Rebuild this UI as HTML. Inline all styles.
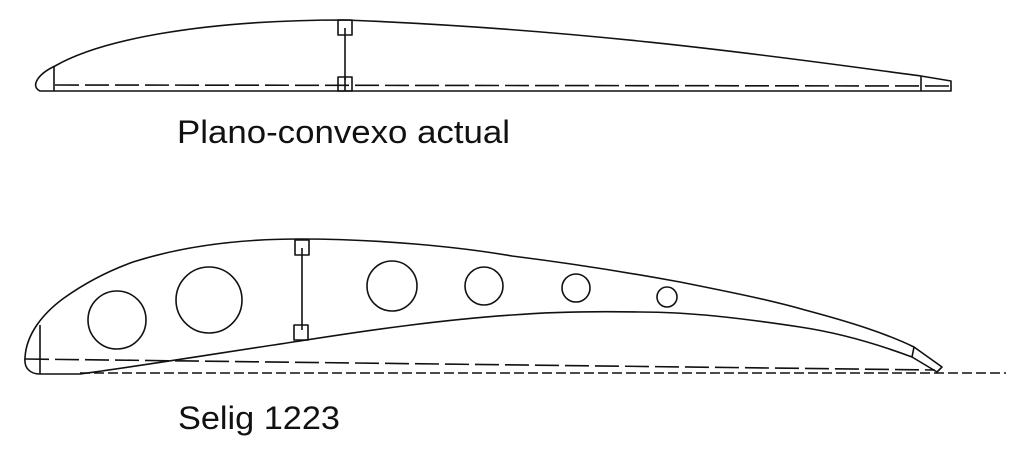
<!DOCTYPE html>
<html><head><style>html,body{margin:0;padding:0;background:#fff}svg{display:block}</style></head>
<body>
<svg width="1024" height="457" viewBox="0 0 1024 457" xmlns="http://www.w3.org/2000/svg">
<g fill="none" stroke="#111" stroke-width="1.6" stroke-linejoin="round">
<!-- top airfoil -->
<path d="M40 91 L951 91 L951 81 L921 76 C800 60 600 30 345 20 C200 20 100 40 55 66 C38 74 30 86 40 91 Z"/>
<line x1="54" y1="66" x2="54" y2="91"/>
<line x1="921" y1="76" x2="921" y2="91"/>
<line x1="345" y1="28" x2="345" y2="80"/>
<rect x="338" y="20" width="14" height="15"/>
<rect x="338" y="77" width="14" height="14"/>
<line x1="345" y1="77" x2="345" y2="91"/>
<line x1="55" y1="85" x2="950" y2="86" stroke-dasharray="24,6"/>
<!-- bottom airfoil -->
<path d="M40 374 C30 374 24 368 25 358 C26 335 42 314 64 298 C85 283 108 271 133 262 C180 247 235 239 300 239 C380 239 460 247 512 256 C560 262 620 271 680 282 C730 292 770 300 805 310 C850 322 885 333 914 347 L942 367 L937 372 L912 357 C880 345 840 333 800 327 C740 318 690 312 640 312 C590 311 550 312 512 315 C440 320 370 330 300 341 C220 353 140 366 80 374 Z"/>
<line x1="40" y1="325" x2="40" y2="374"/>
<line x1="914" y1="347" x2="912" y2="357"/>
<line x1="302" y1="248" x2="302" y2="330"/>
<rect x="295" y="240" width="14" height="15"/>
<rect x="294" y="325" width="14" height="15"/>
<line x1="25" y1="359" x2="935" y2="370" stroke-dasharray="24,6"/>
<line x1="80" y1="373" x2="1006" y2="373" stroke-dasharray="10,4"/>
<circle cx="117" cy="320" r="29"/>
<circle cx="209" cy="300" r="33"/>
<circle cx="392" cy="286" r="25"/>
<circle cx="484" cy="286" r="19"/>
<circle cx="576" cy="288" r="14"/>
<circle cx="667" cy="297" r="10"/>
</g>
<g font-family="Liberation Sans, Arial, sans-serif" font-size="32" fill="#111">
<text x="177" y="143" textLength="333" lengthAdjust="spacingAndGlyphs">Plano-convexo actual</text>
<text x="178" y="429" textLength="162" lengthAdjust="spacingAndGlyphs">Selig 1223</text>
</g>
</svg>
</body></html>
